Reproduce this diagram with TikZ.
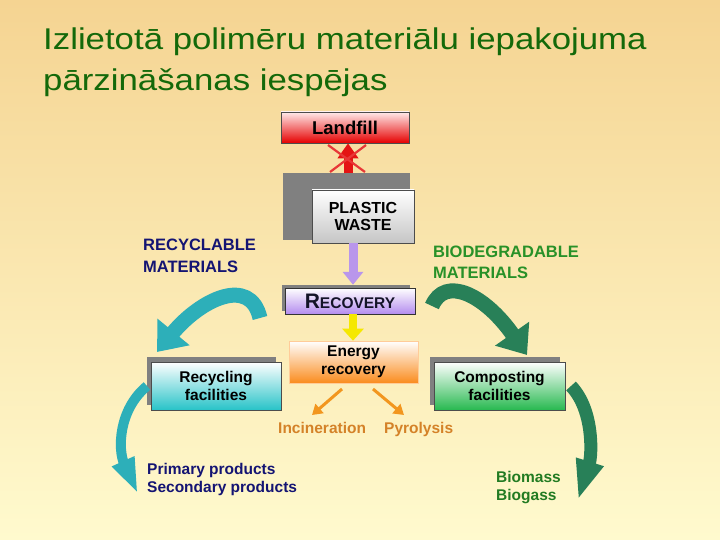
\documentclass[tikz,border=0pt]{standalone}
\usepackage{fontspec}
\setmainfont{Liberation Sans}
\newfontfamily\titlefont[FakeStretch=1.16]{Liberation Sans}
\usetikzlibrary{arrows.meta}
\definecolor{bgtop}{RGB}{245,212,146}
\definecolor{bgbot}{RGB}{255,250,206}
\definecolor{titlegreen}{RGB}{20,105,10}
\definecolor{shadowgray}{RGB}{128,128,128}
\definecolor{navytxt}{RGB}{20,20,115}
\definecolor{greentxt}{RGB}{40,145,40}
\definecolor{orangetxt}{RGB}{212,130,40}
\definecolor{orangearr}{RGB}{242,150,30}
\definecolor{tealarr}{RGB}{45,175,185}
\definecolor{greenarr}{RGB}{40,128,88}
\definecolor{redarr}{RGB}{228,20,20}
\definecolor{purplearr}{RGB}{185,150,235}
\definecolor{yellowarr}{RGB}{245,232,0}
\tikzset{
  box/.style={draw=gray!60!black, line width=0.6pt, inner sep=0pt, align=center,
    anchor=center, font=\bfseries\fontsize{15.5}{17.5}\selectfont, text=black},
  shadowbox/.style={fill=shadowgray, inner sep=0pt, anchor=center},
  lbl/.style={anchor=base west, inner sep=0pt, font=\bfseries\fontsize{16.5}{18}\selectfont},
  smalllbl/.style={anchor=base west, inner sep=0pt, font=\bfseries\fontsize{15.5}{17}\selectfont},
  titletxt/.style={anchor=base west, inner sep=0pt, text=titlegreen, font=\titlefont\fontsize{30}{34}\selectfont},
  straightarrow/.style={line width=9pt, line cap=butt, -{Triangle[length=14pt,width=20pt]}},
  curvedarrow/.style={line cap=butt},
}
\begin{document}
\begin{tikzpicture}[x=1pt,y=-1pt]
\useasboundingbox (0,0) rectangle (720,540);
\shade[top color=bgtop, bottom color=bgbot] (0,0) rectangle (720,540);

% title
\node[titletxt] (t1) at (43,50) {Izlietotā polimēru materiālu iepakojuma};
\node[titletxt] (t2) at (43,91) {pārzināšanas iespējas};

% landfill
\node[box, minimum width=128pt, minimum height=31pt, top color=red!8!white, bottom color=red!90!black,
  font=\bfseries\fontsize{18.5}{20}\selectfont] (landfill) at (345,127.5) {Landfill};

% plastic waste
\node[shadowbox, minimum width=127pt, minimum height=67pt] (pwshadow) at (346.5,206.5) {};
\node[box, minimum width=102pt, minimum height=53pt, top color=white, bottom color=gray!45,
  font=\bfseries\fontsize{16}{17}\selectfont] (plastic) at (363,216.5) {PLASTIC\\WASTE};

% recovery
\node[shadowbox, minimum width=128pt, minimum height=26pt] (recshadow) at (346,298) {};
\node[box, draw=black!80, minimum width=130pt, minimum height=26pt, top color=white,
  bottom color={rgb,255:red,180;green,140;blue,238}, text={rgb,255:red,20;green,20;blue,40}] (recovery) at (350,301)
  {{\fontsize{21}{21}\selectfont R}{\fontsize{15.5}{16}\selectfont ECOVERY}};

% energy recovery
\node[box, draw=orange!40, minimum width=129pt, minimum height=42pt, top color=white,
  bottom color={rgb,255:red,250;green,140;blue,30}] (energy) at (353.5,362) {Energy\\recovery};

% recycling facilities
\node[shadowbox, minimum width=129pt, minimum height=48pt] (rcyshadow) at (211.5,381) {};
\node[box, minimum width=130pt, minimum height=48pt, top color=white,
  bottom color={rgb,255:red,40;green,195;blue,200}] (recycling) at (216,386) {Recycling\\facilities};

% composting facilities
\node[shadowbox, minimum width=130pt, minimum height=48pt] (cmpshadow) at (495,381) {};
\node[box, minimum width=131pt, minimum height=48pt, top color=white,
  bottom color={rgb,255:red,40;green,185;blue,80}] (composting) at (499.5,386) {Composting\\facilities};

% labels
\node[lbl, text=navytxt] (rm1) at (143,251) {RECYCLABLE};
\node[lbl, text=navytxt] (rm2) at (143,272) {MATERIALS};
\node[lbl, text=greentxt] (bm1) at (433,258) {BIODEGRADABLE};
\node[lbl, text=greentxt] (bm2) at (433,278) {MATERIALS};
\node[smalllbl, text=orangetxt] (inc) at (278,433) {Incineration};
\node[smalllbl, text=orangetxt] (pyr) at (384,433) {Pyrolysis};
\node[smalllbl, text=navytxt] (pp) at (147,474) {Primary products};
\node[smalllbl, text=navytxt] (sp) at (147,492) {Secondary products};
\node[smalllbl, text=greentxt!85!black] (bio1) at (496,482) {Biomass};
\node[smalllbl, text=greentxt!85!black] (bio2) at (496,500) {Biogass};

% straight arrows
\coordinate (rx) at (348,0);
\draw[straightarrow, redarr, -{Triangle[length=15pt,width=20pt]}] (pwshadow.north -| rx) -- (landfill.south -| rx);
\coordinate (x1a) at (328,145);
\coordinate (x1b) at (365,172);
\coordinate (x2a) at (366,145);
\coordinate (x2b) at (330,172);
\draw[redarr!85!white, line width=2.2pt] (x1a) -- (x1b);
\draw[redarr!85!white, line width=2.2pt] (x2a) -- (x2b);

\coordinate (px) at (353,0);
\draw[straightarrow, purplearr, -{Triangle[length=13pt,width=20pt]}] (plastic.south -| px) -- (recshadow.north -| px);
\draw[straightarrow, yellowarr, line width=8pt, -{Triangle[length=12pt,width=21pt]}] (recovery.south -| px) -- (energy.north -| px);

\coordinate (o1s) at (342,389);
\coordinate (o1e) at (312,415);
\coordinate (o2s) at (373,389);
\coordinate (o2e) at (404,415);
\draw[orangearr, line width=3pt, -{Triangle[length=10pt,width=12pt]}] (o1s) -- (o1e);
\draw[orangearr, line width=3pt, -{Triangle[length=10pt,width=12pt]}] (o2s) -- (o2e);

% curved arrows
\coordinate (c1s) at (260,318);
\coordinate (c1e) at (157,352);
\draw[curvedarrow, tealarr, line width=15pt, -{Triangle[length=26pt,width=40pt]}]
  (c1s) .. controls (250,275) and (200,300) .. (c1e);
\coordinate (c2s) at (432,306);
\coordinate (c2e) at (527,355);
\draw[curvedarrow, greenarr, line width=15pt, -{Triangle[length=26pt,width=40pt]}]
  (c2s) .. controls (445,275) and (485,295) .. (c2e);
\coordinate (c3s) at (147,386);
\coordinate (c3e) at (138,494);
\draw[curvedarrow, tealarr, line width=10pt, -{Triangle[length=36pt,width=22pt]}]
  (c3s) .. controls (118,410) and (118,450) .. (c3e);
\coordinate (c4s) at (571,386);
\coordinate (c4e) at (578,500);
\draw[curvedarrow, greenarr, line width=13pt, -{Triangle[length=40pt,width=26pt]}]
  (c4s) .. controls (594,410) and (592,455) .. (c4e);
\end{tikzpicture}
\end{document}
